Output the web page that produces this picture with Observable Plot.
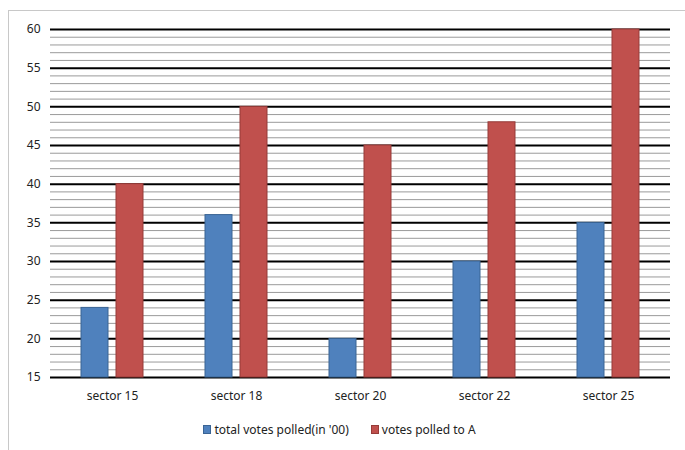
<!DOCTYPE html>
<html>
<head>
<meta charset="utf-8">
<script src="https://cdn.jsdelivr.net/npm/d3@7"></script>
<script src="https://cdn.jsdelivr.net/npm/@observablehq/plot@0.6"></script>
<style>
  body { margin: 0; background: #fff; font-family: "Noto Sans", "Open Sans", sans-serif; }
  #wrap { position: relative; width: 685px; height: 450px; overflow: hidden; }
  #frame { position: absolute; left: 8px; top: 10px; width: 700px; height: 460px; border-left: 1px solid #c8c8c8; border-top: 1px solid #c8c8c8; }
  #chart { position: absolute; left: 0; top: 0; }
  #legend { position: absolute; left: 0; top: 421px; width: 685px; display: flex; justify-content: center; gap: 22px; font-size: 12px; color: #222; padding-right: 6px; box-sizing: border-box; }
  .item { display: flex; align-items: center; gap: 3px; }
  .sw { width: 6px; height: 7px; display: inline-block; }
</style>
</head>
<body>
<div id="wrap">
  <div id="frame"></div>
  <div id="chart"></div>
  <div id="legend"></div>
</div>
<script>
const sectors = ["sector 15", "sector 18", "sector 20", "sector 22", "sector 25"];
const seriesNames = ["total votes polled(in '00)", "votes polled to A"];
const totalVotes = [24, 36, 20, 30, 35];
const votesA = [40, 50, 45, 48, 60];
const yTicks = [15, 20, 25, 30, 35, 40, 45, 50, 55, 60];
const fills = ["#4F81BD", "#C0504D"];
const strokes = ["#3A6494", "#963B38"];

const yMin = yTicks[0], yMax = yTicks[yTicks.length - 1];
const minorTicks = d3.range(yMin, yMax + 1).filter(v => v % 5 !== 0);

const data = [];
sectors.forEach((s, i) => {
  data.push({sector: s, series: seriesNames[0], value: totalVotes[i]});
  data.push({sector: s, series: seriesNames[1], value: votesA[i]});
});

const chart = Plot.plot({
  width: 685,
  height: 410,
  marginLeft: 48,
  marginRight: 13,
  marginTop: 29,
  marginBottom: 33,
  style: {fontFamily: "'Noto Sans', 'Open Sans', sans-serif", fontSize: "12px", color: "#222", background: "transparent"},
  fx: {domain: sectors, padding: 0, label: null, axis: null},
  x: {domain: seriesNames, axis: null, paddingInner: 0.222, paddingOuter: 0.844},
  y: {domain: [yMin, yMax], label: null},
  color: {domain: seriesNames, range: fills},
  marks: [
    Plot.ruleY(minorTicks, {stroke: "#9a9a9a", strokeWidth: 1}),
    Plot.ruleY(yTicks, {stroke: "#000", strokeWidth: 2}),
    Plot.barY(data, {
      fx: "sector", x: "series", y1: yMin, y2: "value",
      fill: "series",
      stroke: d => strokes[seriesNames.indexOf(d.series)],
      strokeWidth: 1
    }),
    Plot.axisY(yTicks, {ticks: yTicks, tickSize: 0, tickPadding: 10, label: null, fontSize: 12}),
    Plot.axisFx({anchor: "bottom", tickSize: 0, tickPadding: 14, label: null, fontSize: 12})
  ]
});
document.getElementById("chart").appendChild(chart);

const legend = document.getElementById("legend");
seriesNames.forEach((n, i) => {
  const it = document.createElement("div");
  it.className = "item";
  const sw = document.createElement("span");
  sw.className = "sw";
  sw.style.background = fills[i];
  sw.style.border = "1px solid " + strokes[i];
  const t = document.createElement("span");
  t.textContent = n;
  it.appendChild(sw); it.appendChild(t);
  legend.appendChild(it);
});
</script>
</body>
</html>
